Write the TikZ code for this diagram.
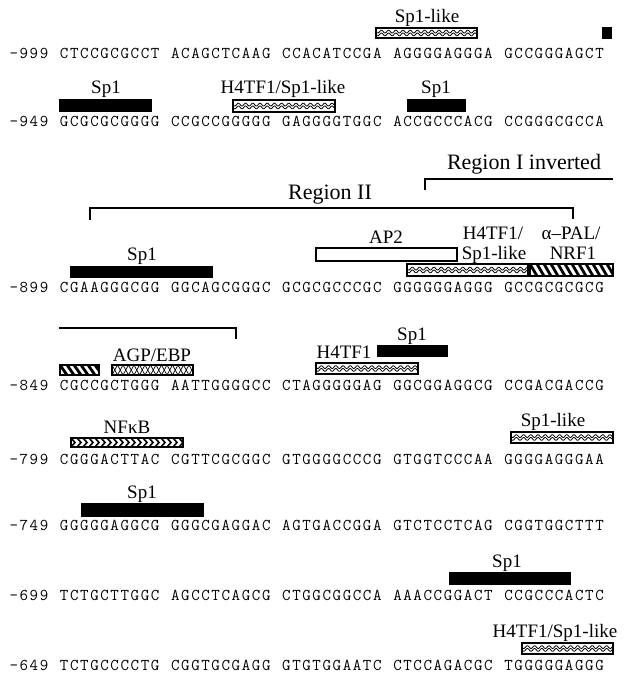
\documentclass[tikz,border=0pt]{standalone}
\usepackage{fontspec}
\newfontfamily\labfont{Liberation Serif}
\newcommand\chcell[1]{\makebox[10.1pt][c]{#1}}
\def\seqloop#1{\ifx#1\relax\else\chcell{#1}\expandafter\seqloop\fi}
\newcommand\seqtext[1]{\seqloop#1\relax}
\tikzset{
 seq/.style={anchor=base west, inner sep=0pt, font=\ttfamily\fontsize{16.5}{17}\selectfont},
 lab/.style={anchor=base, inner sep=0pt, font=\labfont\fontsize{19}{21}\selectfont},
 reglab/.style={anchor=base, inner sep=0pt, font=\labfont\fontsize{22}{24}\selectfont},
 bracket/.style={line width=2.8pt, line join=miter},
 boxline/.style={line width=1.4pt},
}
\newcommand\blackbox[4]{\fill (#1,#2) rectangle (#3,#4);}
\newcommand\whitebox[4]{\draw[boxline, fill=white] (#1,#2) rectangle (#3,#4);}
\newcommand\wavybox[4]{%
 \begin{scope}
 \clip (#1,#2) rectangle (#3,#4);
 \draw[line width=0.8pt] plot[domain=#1:#3, samples=180] (\x,{(#2+#4)/2-1.4+1.4*sin((\x-#1)*50)});
 \draw[line width=0.8pt] plot[domain=#1:#3, samples=180] (\x,{(#2+#4)/2+1.4+1.4*sin((\x-#1)*50)});
 \end{scope}
 \draw[boxline] (#1,#2) rectangle (#3,#4);}
\newcommand\hatchbox[4]{%
 \begin{scope}
 \clip (#1,#2) rectangle (#3,#4);
 \pgfmathtruncatemacro\hn{(#3-#1)/7+2}
 \foreach \k in {-2,...,\hn} \draw[line width=2.8pt] ({#1+\k*7},#2) -- ({#1+\k*7+7},#4);
 \end{scope}
 \draw[boxline] (#1,#2) rectangle (#3,#4);}
\newcommand\chevbox[4]{%
 \begin{scope}
 \clip (#1,#2) rectangle (#3,#4);
 \pgfmathtruncatemacro\hn{(#3-#1)/6+1}
 \foreach \k in {-1,...,\hn} \draw[line width=1.6pt] ({#1+\k*6},#2) -- ({#1+\k*6+4},{(#2+#4)/2}) -- ({#1+\k*6},#4);
 \end{scope}
 \draw[boxline] (#1,#2) rectangle (#3,#4);}
\newcommand\xbox[4]{%
 \begin{scope}
 \clip (#1,#2) rectangle (#3,#4);
 \pgfmathtruncatemacro\hn{(#3-#1)/11+1}
 \foreach \k in {0,...,\hn} {
  \draw[line width=0.7pt] ({#1+\k*11},#2) -- ({#1+\k*11+5.5},#4) -- ({#1+\k*11+11},#2);
  \draw[line width=0.7pt] ({#1+\k*11},#4) -- ({#1+\k*11+5.5},#2) -- ({#1+\k*11+11},#4);}
 \end{scope}
 \draw[boxline] (#1,#2) rectangle (#3,#4);}
\begin{document}
\begin{tikzpicture}[x=1pt,y=-1pt]
\useasboundingbox[fill=white] (0,0) rectangle (634,678);
% sequences
\node[seq] (rA) at (8.5,58) {\seqtext{-999~CTCCGCGCCT~ACAGCTCAAG~CCACATCCGA~AGGGGAGGGA~GCCGGGAGCT}};
\node[seq] (rB) at (8.5,126) {\seqtext{-949~GCGCGCGGGG~CCGCCGGGGG~GAGGGGTGGC~ACCGCCCACG~CCGGGCGCCA}};
\node[seq] (rC) at (8.5,292) {\seqtext{-899~CGAAGGGCGG~GGCAGCGGGC~GCGCGCCCGC~GGGGGGAGGG~GCCGCGCGCG}};
\node[seq] (rD) at (8.5,390) {\seqtext{-849~CGCCGCTGGG~AATTGGGGCC~CTAGGGGGAG~GGCGGAGGCG~CCGACGACCG}};
\node[seq] (rE) at (8.5,464) {\seqtext{-799~CGGGACTTAC~CGTTCGCGGC~GTGGGGCCCG~GTGGTCCCAA~GGGGAGGGAA}};
\node[seq] (rF) at (8.5,530) {\seqtext{-749~GGGGGAGGCG~GGGCGAGGAC~AGTGACCGGA~GTCTCCTCAG~CGGTGGCTTT}};
\node[seq] (rG) at (8.5,600) {\seqtext{-699~TCTGCTTGGC~AGCCTCAGCG~CTGGCGGCCA~AAACCGGACT~CCGCCCACTC}};
\node[seq] (rH) at (8.5,670) {\seqtext{-649~TCTGCCCCTG~CGGTGCGAGG~GTGTGGAATC~CTCCAGACGC~TGGGGGAGGG}};
% row A
\node[lab] (lA1) at (427,22) {Sp1-like};
\wavybox{376}{28}{477}{38}
\blackbox{602}{27}{612}{39}
% row B
\node[lab] (lB1) at (106,93) {Sp1};
\blackbox{59}{99}{152}{112}
\node[lab] (lB2) at (283,93) {H4TF1/Sp1-like};
\wavybox{233}{100}{335}{112}
\node[lab] (lB3) at (436,93) {Sp1};
\blackbox{407}{99}{466}{112}
% regions
\node[reglab] (rI) at (524,169) {Region I inverted};
\coordinate (rIa) at (425,190);
\coordinate (rIb) at (425,179);
\coordinate (rIc) at (613,179);
\draw[bracket] (rIa) -- (rIb) -- (rIc);
\node[reglab] (rII) at (330,199) {Region II};
\coordinate (rIIa) at (90,220);
\coordinate (rIIb) at (90,208);
\coordinate (rIIc) at (573,208);
\coordinate (rIId) at (573,219);
\draw[bracket] (rIIa) -- (rIIb) -- (rIIc) -- (rIId);
\coordinate (rIe) at (59,328);
\coordinate (rIf) at (236,328);
\coordinate (rIg) at (236,339);
\draw[bracket] (rIe) -- (rIf) -- (rIg);
% row C
\node[lab] (lC1) at (142,260) {Sp1};
\blackbox{70}{266}{213}{278}
\node[lab] (lC2) at (386,243) {AP2};
\whitebox{316}{248}{457}{261}
\node[lab] (lC3) at (493,239) {H4TF1/};
\node[lab] (lC4) at (494,259) {Sp1-like};
\wavybox{407}{264}{528}{276}
\node[lab] (lC5) at (571,239) {α–PAL/};
\node[lab] (lC6) at (573,259) {NRF1};
\hatchbox{530}{264}{613}{276}
% row D
\hatchbox{60}{365}{99}{375}
\node[lab] (lD1) at (152,361) {AGP/EBP};
\xbox{112}{365}{193}{375}
\node[lab] (lD2) at (344,358) {H4TF1};
\wavybox{316}{363}{418}{374}
\node[lab] (lD3) at (412,340) {Sp1};
\blackbox{377}{345}{448}{357}
% row E
\node[lab] (lE1) at (127,433) {NFκB};
\chevbox{71}{438}{183}{447}
\node[lab] (lE2) at (553,426) {Sp1-like};
\wavybox{511}{432}{613}{443}
% row F
\node[lab] (lF1) at (142,498) {Sp1};
\blackbox{81}{503}{204}{517}
% row G
\node[lab] (lG1) at (507,567) {Sp1};
\blackbox{449}{572}{571}{585}
% row H
\node[lab] (lH1) at (555,637) {H4TF1/Sp1-like};
\wavybox{522}{643}{613}{654}
\end{tikzpicture}
\end{document}
